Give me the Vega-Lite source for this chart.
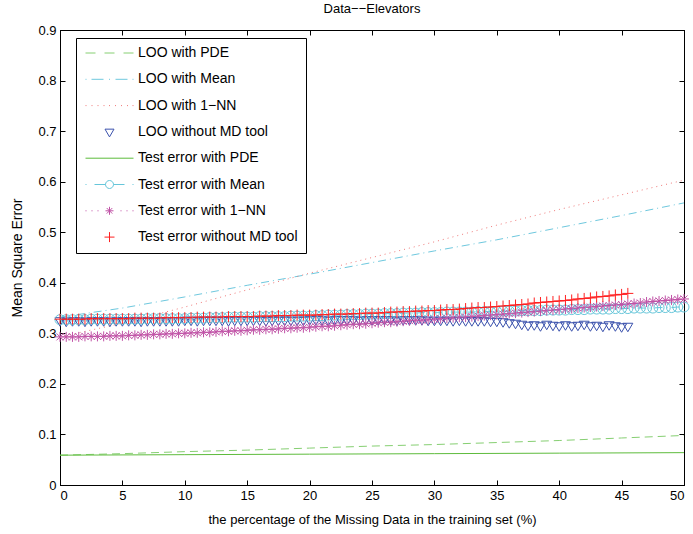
{
  "$schema": "https://vega.github.io/schema/vega-lite/v6.json",
  "autosize": "none",
  "width": 624,
  "height": 455,
  "padding": {"left": 60, "top": 30, "right": 9, "bottom": 49},
  "background": "white",
  "title": {"text": "Data−−Elevators", "fontSize": 13, "fontWeight": "normal", "font": "Liberation Sans", "color": "black", "offset": 8},
  "config": {
    "font": "Liberation Sans",
    "view": {"stroke": "black", "strokeWidth": 1},
    "axis": {"grid": false, "domainColor": "black", "tickColor": "black", "labelColor": "black", "titleColor": "black", "labelFont": "Liberation Sans", "titleFont": "Liberation Sans", "labelFontSize": 13, "titleFontSize": 14, "titleFontWeight": "normal", "domainWidth": 1, "tickWidth": 1}
  },
  "datasets": {
    "names": [
      {"k": "a", "series": "LOO without MD tool"},
      {"k": "b", "series": "Test error with Mean"},
      {"k": "c", "series": "Test error with 1−NN"},
      {"k": "d", "series": "Test error without MD tool"}
    ],
    "legendrows": [
      {"series": "LOO with PDE"}, {"series": "LOO with Mean"}, {"series": "LOO with 1−NN"}, {"series": "LOO without MD tool"},
      {"series": "Test error with PDE"}, {"series": "Test error with Mean"}, {"series": "Test error with 1−NN"}, {"series": "Test error without MD tool"}
    ],
    "curves": [
      {"series": "LOO with PDE", "x": 0, "v": 0.059}, {"series": "LOO with PDE", "x": 5, "v": 0.062}, {"series": "LOO with PDE", "x": 10, "v": 0.066}, {"series": "LOO with PDE", "x": 15, "v": 0.069}, {"series": "LOO with PDE", "x": 20, "v": 0.073}, {"series": "LOO with PDE", "x": 25, "v": 0.077}, {"series": "LOO with PDE", "x": 30, "v": 0.080}, {"series": "LOO with PDE", "x": 35, "v": 0.084}, {"series": "LOO with PDE", "x": 40, "v": 0.088}, {"series": "LOO with PDE", "x": 45, "v": 0.093}, {"series": "LOO with PDE", "x": 50, "v": 0.098},
      {"series": "LOO with Mean", "x": 0, "v": 0.332}, {"series": "LOO with Mean", "x": 5, "v": 0.350}, {"series": "LOO with Mean", "x": 10, "v": 0.372}, {"series": "LOO with Mean", "x": 15, "v": 0.395}, {"series": "LOO with Mean", "x": 20, "v": 0.417}, {"series": "LOO with Mean", "x": 25, "v": 0.440}, {"series": "LOO with Mean", "x": 30, "v": 0.463}, {"series": "LOO with Mean", "x": 35, "v": 0.485}, {"series": "LOO with Mean", "x": 40, "v": 0.509}, {"series": "LOO with Mean", "x": 45, "v": 0.533}, {"series": "LOO with Mean", "x": 50, "v": 0.558},
      {"series": "LOO with 1−NN", "x": 0, "v": 0.293}, {"series": "LOO with 1−NN", "x": 5, "v": 0.320}, {"series": "LOO with 1−NN", "x": 10, "v": 0.352}, {"series": "LOO with 1−NN", "x": 15, "v": 0.386}, {"series": "LOO with 1−NN", "x": 20, "v": 0.419}, {"series": "LOO with 1−NN", "x": 25, "v": 0.450}, {"series": "LOO with 1−NN", "x": 30, "v": 0.481}, {"series": "LOO with 1−NN", "x": 35, "v": 0.514}, {"series": "LOO with 1−NN", "x": 40, "v": 0.545}, {"series": "LOO with 1−NN", "x": 45, "v": 0.574}, {"series": "LOO with 1−NN", "x": 50, "v": 0.603},
      {"series": "Test error with PDE", "x": 0, "v": 0.059}, {"series": "Test error with PDE", "x": 10, "v": 0.060}, {"series": "Test error with PDE", "x": 20, "v": 0.061}, {"series": "Test error with PDE", "x": 30, "v": 0.062}, {"series": "Test error with PDE", "x": 40, "v": 0.063}, {"series": "Test error with PDE", "x": 50, "v": 0.064}
    ],
    "marks": [
      {"x": 0, "a": 0.325, "b": 0.327, "c": 0.293, "d": 0.328},
      {"x": 0.5, "a": 0.324, "b": 0.327, "c": 0.293, "d": 0.328},
      {"x": 1, "a": 0.325, "b": 0.327, "c": 0.293, "d": 0.328},
      {"x": 1.5, "a": 0.325, "b": 0.327, "c": 0.293, "d": 0.328},
      {"x": 2, "a": 0.324, "b": 0.327, "c": 0.294, "d": 0.328},
      {"x": 2.5, "a": 0.325, "b": 0.328, "c": 0.294, "d": 0.329},
      {"x": 3, "a": 0.325, "b": 0.328, "c": 0.294, "d": 0.329},
      {"x": 3.5, "a": 0.325, "b": 0.328, "c": 0.294, "d": 0.329},
      {"x": 4, "a": 0.324, "b": 0.328, "c": 0.295, "d": 0.329},
      {"x": 4.5, "a": 0.325, "b": 0.328, "c": 0.295, "d": 0.329},
      {"x": 5, "a": 0.325, "b": 0.328, "c": 0.295, "d": 0.329},
      {"x": 5.5, "a": 0.325, "b": 0.328, "c": 0.296, "d": 0.329},
      {"x": 6, "a": 0.325, "b": 0.328, "c": 0.296, "d": 0.330},
      {"x": 6.5, "a": 0.324, "b": 0.328, "c": 0.297, "d": 0.330},
      {"x": 7, "a": 0.325, "b": 0.329, "c": 0.297, "d": 0.330},
      {"x": 7.5, "a": 0.325, "b": 0.329, "c": 0.298, "d": 0.330},
      {"x": 8, "a": 0.325, "b": 0.329, "c": 0.298, "d": 0.330},
      {"x": 8.5, "a": 0.325, "b": 0.329, "c": 0.299, "d": 0.331},
      {"x": 9, "a": 0.325, "b": 0.329, "c": 0.299, "d": 0.331},
      {"x": 9.5, "a": 0.325, "b": 0.329, "c": 0.300, "d": 0.331},
      {"x": 10, "a": 0.326, "b": 0.329, "c": 0.300, "d": 0.331},
      {"x": 10.5, "a": 0.326, "b": 0.330, "c": 0.301, "d": 0.331},
      {"x": 11, "a": 0.325, "b": 0.330, "c": 0.301, "d": 0.332},
      {"x": 11.5, "a": 0.326, "b": 0.330, "c": 0.302, "d": 0.332},
      {"x": 12, "a": 0.326, "b": 0.331, "c": 0.302, "d": 0.332},
      {"x": 12.5, "a": 0.326, "b": 0.331, "c": 0.303, "d": 0.332},
      {"x": 13, "a": 0.326, "b": 0.331, "c": 0.304, "d": 0.332},
      {"x": 13.5, "a": 0.325, "b": 0.332, "c": 0.304, "d": 0.333},
      {"x": 14, "a": 0.326, "b": 0.332, "c": 0.305, "d": 0.333},
      {"x": 14.5, "a": 0.326, "b": 0.332, "c": 0.305, "d": 0.333},
      {"x": 15, "a": 0.326, "b": 0.332, "c": 0.306, "d": 0.333},
      {"x": 15.5, "a": 0.326, "b": 0.332, "c": 0.307, "d": 0.333},
      {"x": 16, "a": 0.326, "b": 0.333, "c": 0.307, "d": 0.334},
      {"x": 16.5, "a": 0.325, "b": 0.333, "c": 0.308, "d": 0.334},
      {"x": 17, "a": 0.326, "b": 0.333, "c": 0.308, "d": 0.334},
      {"x": 17.5, "a": 0.326, "b": 0.333, "c": 0.309, "d": 0.335},
      {"x": 18, "a": 0.326, "b": 0.333, "c": 0.310, "d": 0.335},
      {"x": 18.5, "a": 0.326, "b": 0.334, "c": 0.310, "d": 0.335},
      {"x": 19, "a": 0.326, "b": 0.334, "c": 0.311, "d": 0.336},
      {"x": 19.5, "a": 0.326, "b": 0.334, "c": 0.311, "d": 0.336},
      {"x": 20, "a": 0.327, "b": 0.334, "c": 0.312, "d": 0.336},
      {"x": 20.5, "a": 0.327, "b": 0.335, "c": 0.313, "d": 0.336},
      {"x": 21, "a": 0.327, "b": 0.335, "c": 0.314, "d": 0.337},
      {"x": 21.5, "a": 0.326, "b": 0.336, "c": 0.314, "d": 0.337},
      {"x": 22, "a": 0.327, "b": 0.336, "c": 0.315, "d": 0.338},
      {"x": 22.5, "a": 0.327, "b": 0.336, "c": 0.316, "d": 0.338},
      {"x": 23, "a": 0.327, "b": 0.337, "c": 0.317, "d": 0.338},
      {"x": 23.5, "a": 0.327, "b": 0.337, "c": 0.318, "d": 0.339},
      {"x": 24, "a": 0.326, "b": 0.337, "c": 0.318, "d": 0.339},
      {"x": 24.5, "a": 0.327, "b": 0.338, "c": 0.319, "d": 0.340},
      {"x": 25, "a": 0.327, "b": 0.338, "c": 0.320, "d": 0.340},
      {"x": 25.5, "a": 0.327, "b": 0.338, "c": 0.321, "d": 0.340},
      {"x": 26, "a": 0.327, "b": 0.339, "c": 0.322, "d": 0.341},
      {"x": 26.5, "a": 0.327, "b": 0.339, "c": 0.322, "d": 0.342},
      {"x": 27, "a": 0.326, "b": 0.339, "c": 0.323, "d": 0.342},
      {"x": 27.5, "a": 0.327, "b": 0.340, "c": 0.324, "d": 0.343},
      {"x": 28, "a": 0.327, "b": 0.340, "c": 0.325, "d": 0.343},
      {"x": 28.5, "a": 0.327, "b": 0.340, "c": 0.326, "d": 0.344},
      {"x": 29, "a": 0.327, "b": 0.341, "c": 0.326, "d": 0.344},
      {"x": 29.5, "a": 0.326, "b": 0.341, "c": 0.327, "d": 0.345},
      {"x": 30, "a": 0.326, "b": 0.341, "c": 0.328, "d": 0.345},
      {"x": 30.5, "a": 0.326, "b": 0.341, "c": 0.329, "d": 0.346},
      {"x": 31, "a": 0.326, "b": 0.342, "c": 0.330, "d": 0.347},
      {"x": 31.5, "a": 0.325, "b": 0.342, "c": 0.331, "d": 0.347},
      {"x": 32, "a": 0.326, "b": 0.342, "c": 0.332, "d": 0.348},
      {"x": 32.5, "a": 0.325, "b": 0.342, "c": 0.332, "d": 0.349},
      {"x": 33, "a": 0.325, "b": 0.342, "c": 0.333, "d": 0.350},
      {"x": 33.5, "a": 0.325, "b": 0.343, "c": 0.334, "d": 0.351},
      {"x": 34, "a": 0.325, "b": 0.343, "c": 0.335, "d": 0.351},
      {"x": 34.5, "a": 0.324, "b": 0.343, "c": 0.336, "d": 0.352},
      {"x": 35, "a": 0.324, "b": 0.343, "c": 0.337, "d": 0.353},
      {"x": 35.5, "a": 0.323, "b": 0.344, "c": 0.338, "d": 0.354},
      {"x": 36, "a": 0.321, "b": 0.344, "c": 0.339, "d": 0.355},
      {"x": 36.5, "a": 0.320, "b": 0.344, "c": 0.340, "d": 0.356},
      {"x": 37, "a": 0.318, "b": 0.345, "c": 0.341, "d": 0.357},
      {"x": 37.5, "a": 0.316, "b": 0.345, "c": 0.342, "d": 0.358},
      {"x": 38, "a": 0.317, "b": 0.345, "c": 0.343, "d": 0.360},
      {"x": 38.5, "a": 0.315, "b": 0.345, "c": 0.344, "d": 0.361},
      {"x": 39, "a": 0.318, "b": 0.346, "c": 0.345, "d": 0.362},
      {"x": 39.5, "a": 0.316, "b": 0.346, "c": 0.346, "d": 0.363},
      {"x": 40, "a": 0.315, "b": 0.346, "c": 0.347, "d": 0.364},
      {"x": 40.5, "a": 0.317, "b": 0.346, "c": 0.348, "d": 0.365},
      {"x": 41, "a": 0.315, "b": 0.347, "c": 0.349, "d": 0.366},
      {"x": 41.5, "a": 0.316, "b": 0.347, "c": 0.350, "d": 0.368},
      {"x": 42, "a": 0.318, "b": 0.347, "c": 0.351, "d": 0.369},
      {"x": 42.5, "a": 0.315, "b": 0.348, "c": 0.352, "d": 0.370},
      {"x": 43, "a": 0.316, "b": 0.348, "c": 0.353, "d": 0.372},
      {"x": 43.5, "a": 0.314, "b": 0.348, "c": 0.354, "d": 0.373},
      {"x": 44, "a": 0.317, "b": 0.348, "c": 0.355, "d": 0.374},
      {"x": 44.5, "a": 0.315, "b": 0.349, "c": 0.356, "d": 0.376},
      {"x": 45, "a": 0.313, "b": 0.349, "c": 0.357, "d": 0.377},
      {"x": 45.5, "a": 0.314, "b": 0.349, "c": 0.358, "d": 0.379},
      {"x": 46, "b": 0.350, "c": 0.359},
      {"x": 46.5, "b": 0.350, "c": 0.360},
      {"x": 47, "b": 0.350, "c": 0.362},
      {"x": 47.5, "b": 0.350, "c": 0.363},
      {"x": 48, "b": 0.351, "c": 0.364},
      {"x": 48.5, "b": 0.351, "c": 0.365},
      {"x": 49, "b": 0.351, "c": 0.366},
      {"x": 49.5, "b": 0.352, "c": 0.367},
      {"x": 50, "b": 0.352, "c": 0.368}
    ]
  },
  "layer": [
    {
      "data": {"name": "curves"},
      "mark": {"type": "line", "strokeWidth": 1, "clip": true},
      "encoding": {
        "x": {"field": "x", "type": "quantitative", "scale": {"domain": [0, 50], "nice": false, "zero": false},
              "axis": {"orient": "bottom", "values": [0, 5, 10, 15, 20, 25, 30, 35, 40, 45, 50], "tickSize": -5, "labelPadding": 9, "title": "the percentage of the Missing Data in the training set (%)", "titleFontSize": 13, "titlePadding": 11}},
        "y": {"field": "v", "type": "quantitative", "scale": {"domain": [0, 0.9], "nice": false, "zero": false},
              "axis": {"orient": "left", "values": [0, 0.1, 0.2, 0.3, 0.4, 0.5, 0.6, 0.7, 0.8, 0.9], "format": "~g", "tickSize": -5, "labelPadding": 9, "title": "Mean Square Error", "titlePadding": 13}},
        "color": {"field": "series", "type": "nominal", "legend": null,
                  "scale": {"domain": ["LOO with PDE", "LOO with Mean", "LOO with 1−NN", "LOO without MD tool", "Test error with PDE", "Test error with Mean", "Test error with 1−NN", "Test error without MD tool"],
                            "range": ["#86cf72", "#6ec8de", "#f07a7a", "#3b52ad", "#5cbb3a", "#66c6da", "#c052a6", "#ff2020"]}},
        "strokeDash": {"field": "series", "type": "nominal", "legend": null,
                  "scale": {"domain": ["LOO with PDE", "LOO with Mean", "LOO with 1−NN", "LOO without MD tool", "Test error with PDE", "Test error with Mean", "Test error with 1−NN", "Test error without MD tool"],
                            "range": [[8, 5], [8, 4, 1, 4], [1, 4], [1, 0], [1, 0], [8, 4, 1, 4], [1, 4], [1, 0]]}}
      }
    },
    {
      "data": {"name": "marks"},
      "transform": [
        {"fold": ["a", "b", "c", "d"], "as": ["k", "v"]},
        {"filter": "isValid(datum.v) && datum.k != 'a'"},
        {"lookup": "k", "from": {"data": {"name": "names"}, "key": "k", "fields": ["series"]}}
      ],
      "mark": {"type": "line", "strokeWidth": 1},
      "encoding": {
        "x": {"field": "x", "type": "quantitative",
              "axis": {"orient": "top", "values": [0, 5, 10, 15, 20, 25, 30, 35, 40, 45, 50], "tickSize": -5, "labels": false, "title": null}},
        "y": {"field": "v", "type": "quantitative",
              "axis": {"orient": "right", "values": [0, 0.1, 0.2, 0.3, 0.4, 0.5, 0.6, 0.7, 0.8, 0.9], "tickSize": -5, "labels": false, "title": null}},
        "color": {"field": "series", "type": "nominal", "legend": null,
                  "scale": {"domain": ["LOO with PDE", "LOO with Mean", "LOO with 1−NN", "LOO without MD tool", "Test error with PDE", "Test error with Mean", "Test error with 1−NN", "Test error without MD tool"],
                            "range": ["#86cf72", "#6ec8de", "#f07a7a", "#3b52ad", "#5cbb3a", "#66c6da", "#c052a6", "#ff2020"]}},
        "strokeDash": {"field": "series", "type": "nominal", "legend": null}
      }
    },
    {
      "data": {"name": "marks"},
      "transform": [
        {"fold": ["a", "b", "c", "d"], "as": ["k", "v"]},
        {"filter": "isValid(datum.v)"},
        {"lookup": "k", "from": {"data": {"name": "names"}, "key": "k", "fields": ["series"]}}
      ],
      "mark": {"type": "point", "filled": false, "strokeWidth": 1, "size": 100, "opacity": 1},
      "encoding": {
        "x": {"field": "x", "type": "quantitative", "axis": null},
        "y": {"field": "v", "type": "quantitative", "axis": null},
        "color": {"field": "series", "type": "nominal", "legend": null,
                  "scale": {"domain": ["LOO with PDE", "LOO with Mean", "LOO with 1−NN", "LOO without MD tool", "Test error with PDE", "Test error with Mean", "Test error with 1−NN", "Test error without MD tool"],
                            "range": ["#86cf72", "#6ec8de", "#f07a7a", "#3b52ad", "#5cbb3a", "#66c6da", "#c052a6", "#ff2020"]}},
        "shape": {"field": "series", "type": "nominal", "legend": null,
                  "scale": {"domain": ["LOO without MD tool", "Test error with Mean", "Test error with 1−NN", "Test error without MD tool"],
                            "range": ["M-1,-0.6H1L0,1.1Z", "circle", "M-1,0H1M0,-1V1M-0.7,-0.7L0.7,0.7M-0.7,0.7L0.7,-0.7", "M-1.1,0H1.1M0,-1.1V1.1"]}}
      }
    },
    {
      "data": {"name": "legendrows"},
      "mark": {"type": "point", "opacity": 0, "filled": false},
      "encoding": {
        "color": {"field": "series", "type": "nominal",
                  "scale": {"domain": ["LOO with PDE", "LOO with Mean", "LOO with 1−NN", "LOO without MD tool", "Test error with PDE", "Test error with Mean", "Test error with 1−NN", "Test error without MD tool"],
                            "range": ["#86cf72", "#6ec8de", "#f07a7a", "#3b52ad", "#5cbb3a", "#66c6da", "#c052a6", "#ff2020"]},
                  "legend": {"title": null, "orient": "none", "legendX": 16, "legendY": 8, "direction": "vertical",
                             "symbolSize": 2500, "symbolStrokeWidth": 1, "symbolOpacity": 1, "symbolFillColor": "transparent",
                             "labelFont": "Liberation Sans", "labelFontSize": 14, "labelColor": "black", "labelLimit": 400, "labelOffset": 3,
                             "clipHeight": 14, "rowPadding": 12.3, "padding": 8, "strokeColor": "black", "fillColor": "white"}},
        "shape": {"field": "series", "type": "nominal",
                  "scale": {"domain": ["LOO with PDE", "LOO with Mean", "LOO with 1−NN", "LOO without MD tool", "Test error with PDE", "Test error with Mean", "Test error with 1−NN", "Test error without MD tool"],
                            "range": [
                              "M-0.96,0H-0.56M-0.2,0H0.2M0.56,0H0.96",
                              "M-0.96,0h0.04M-0.72,0H-0.24M-0.02,0h0.04M0.24,0H0.72M0.92,0h0.04",
                              "M-0.96,0h0.04M-0.72,0h0.04M-0.48,0h0.04M-0.24,0h0.04M-0.02,0h0.04M0.22,0h0.04M0.46,0h0.04M0.7,0h0.04M0.92,0h0.04",
                              "M-0.18,-0.11H0.18L0,0.2Z",
                              "M-0.96,0H0.96",
                              "M-0.96,0h0.04M-0.6,0H-0.16M0.16,0H0.6M0.92,0h0.04M-0.16,0A0.16,0.16 0 1,1 0.16,0A0.16,0.16 0 1,1 -0.16,0",
                              "M-0.96,0h0.04M-0.72,0h0.04M-0.48,0h0.04M0.44,0h0.04M0.68,0h0.04M0.92,0h0.04M-0.16,0H0.16M0,-0.16V0.16M-0.11,-0.11L0.11,0.11M-0.11,0.11L0.11,-0.11",
                              "M-0.2,0H0.2M0,-0.2V0.2"
                            ]},
                  "legend": {"title": null, "orient": "none", "legendX": 16, "legendY": 8, "direction": "vertical",
                             "symbolSize": 2500, "symbolStrokeWidth": 1, "symbolOpacity": 1, "symbolFillColor": "transparent",
                             "labelFont": "Liberation Sans", "labelFontSize": 14, "labelColor": "black", "labelLimit": 400, "labelOffset": 3,
                             "clipHeight": 14, "rowPadding": 12.3, "padding": 8, "strokeColor": "black", "fillColor": "white"}}
      }
    }
  ],
  "resolve": {"scale": {"shape": "independent", "color": "independent"}}
}
